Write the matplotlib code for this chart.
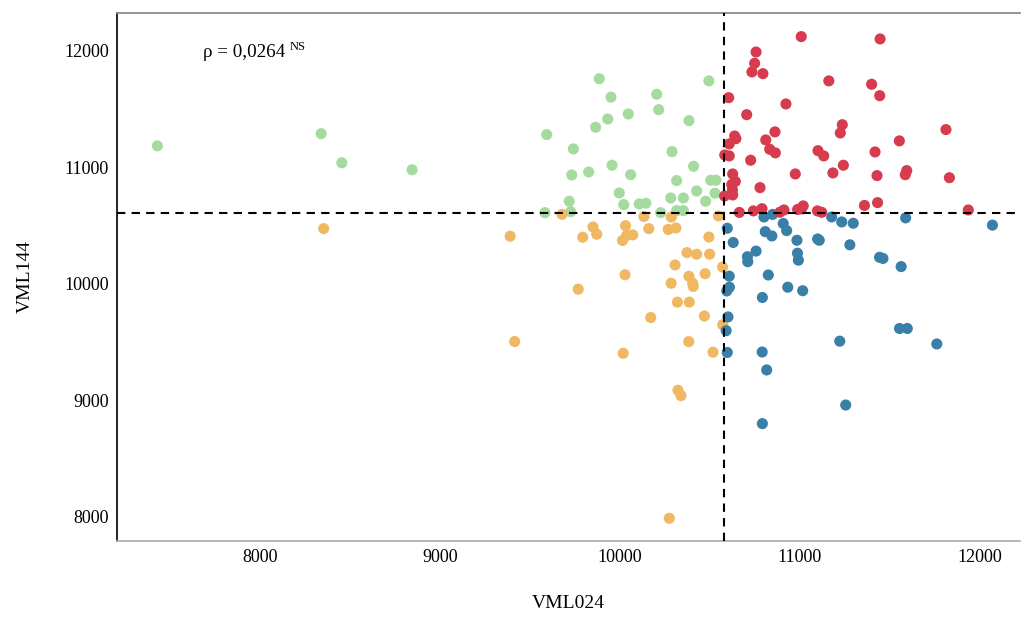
import matplotlib
matplotlib.use("Agg")
import matplotlib.pyplot as plt

plt.rcParams['font.family'] = ['Liberation Serif', 'DejaVu Serif']

# quadrant groups (VML024, VML144)
green_x = [7430, 8340, 8455, 8845, 9885, 10494, 9950, 10204, 10215, 10046,
           9932, 9865, 10383, 9593, 9741, 10289, 9956, 10409, 9732, 9826,
           10059, 10315, 10504, 10533, 9996, 10426, 10528, 10282, 10352, 10476,
           9718, 10021, 10107, 10144, 9583, 9726, 10226, 10315, 10352]
green_y = [11185, 11290, 11040, 10980, 11762, 11743, 11603, 11628, 11496, 11459,
           11416, 11345, 11402, 11282, 11159, 11136, 11019, 11010, 10936, 10961,
           10938, 10887, 10890, 10890, 10781, 10798, 10779, 10738, 10738, 10710,
           10710, 10681, 10687, 10693, 10612, 10621, 10612, 10629, 10629]

red_x = [11007, 11445, 10756, 10748, 10733, 10794, 11160, 11398, 11443, 10604,
         10922, 10704, 11811, 11235, 11224, 10861, 10810, 10637, 10644, 10607,
         11552, 10832, 10863, 11100, 11132, 11417, 10582, 10607, 10726, 11241,
         10974, 11183, 11428, 11593, 11585, 11830, 10626, 10641, 10621, 10625,
         10626, 10581, 10778, 10663, 10741, 10789, 10889, 10911, 10987, 11018,
         11008, 11097, 11121, 11358, 11431, 11935]
red_y = [12123, 12103, 11991, 11894, 11820, 11805, 11743, 11714, 11616, 11599,
         11545, 11453, 11325, 11367, 11296, 11305, 11236, 11270, 11247, 11202,
         11228, 11156, 11125, 11144, 11099, 11133, 11107, 11099, 11062, 11019,
         10944, 10953, 10930, 10973, 10938, 10912, 10944, 10880, 10854, 10807,
         10764, 10755, 10827, 10614, 10627, 10646, 10616, 10635, 10640, 10670,
         10644, 10627, 10615, 10674, 10698, 10635]

blue_x = [10800, 10848, 10907, 10926, 11176, 11232, 11296, 11587, 12069, 10596,
          10807, 10844, 10629, 10983, 11098, 11107, 11277, 10756, 10708, 10710,
          10986, 10991, 11442, 11461, 11562, 10607, 10824, 10608, 10593, 10932,
          11015, 10791, 10600, 10590, 11553, 11596, 11221, 11760, 10596, 10790,
          10815, 11254, 10791]
blue_y = [10575, 10597, 10519, 10458, 10575, 10532, 10521, 10567, 10505, 10478,
          10449, 10412, 10356, 10375, 10386, 10375, 10336, 10282, 10234, 10191,
          10264, 10204, 10229, 10219, 10149, 10067, 10077, 9972, 9940, 9972,
          9942, 9884, 9717, 9599, 9618, 9618, 9509, 9485, 9412, 9416,
          9262, 8961, 8801]

orange_x = [8354, 9678, 10133, 10285, 10547, 9850, 9871, 10031, 9390, 9793,
            10014, 10037, 10071, 10160, 10268, 10311, 10494, 10372, 10426, 10498,
            10306, 10570, 10028, 10383, 10404, 10407, 10473, 10284, 9768, 10319,
            10385, 10171, 10469, 10571, 9415, 10382, 10018, 10517, 10322, 10339,
            10274]
orange_y = [10475, 10598, 10579, 10575, 10584, 10489, 10427, 10500, 10410, 10401,
            10373, 10416, 10421, 10475, 10468, 10481, 10403, 10269, 10255, 10256,
            10163, 10146, 10079, 10066, 10006, 9979, 10088, 10006, 9955, 9844,
            9844, 9712, 9725, 9650, 9506, 9505, 9405, 9414, 9088, 9041,
            7989]

x_mean = 10578
y_mean = 10609
x_ticks = [8000, 9000, 10000, 11000, 12000]
y_ticks = [8000, 9000, 10000, 11000, 12000]

fig = plt.figure(figsize=(10.22, 6.17), dpi=100)
ax = fig.add_axes([0.1145, 0.1232, 0.8835, 0.8558])

ms = 64
ax.scatter(green_x, green_y, s=ms, color='#A6DBA0', edgecolors='none', zorder=3)
ax.scatter(orange_x, orange_y, s=ms, color='#F0B862', edgecolors='none', zorder=3)
ax.scatter(blue_x, blue_y, s=ms, color='#3A7FA8', edgecolors='none', zorder=3)
ax.scatter(red_x, red_y, s=ms, color='#D63B4E', edgecolors='none', zorder=3)

ax.axvline(x_mean, color='black', lw=1.5, ls=(0, (4, 3)), zorder=4)
ax.axhline(y_mean, color='black', lw=1.5, ls=(0, (4, 3)), zorder=4)

ax.set_xlim(7206, 12222)
ax.set_ylim(7794, 12326)
ax.set_xticks(x_ticks)
ax.set_yticks(y_ticks)
ax.tick_params(length=0, labelsize=13, pad=6, colors='black')

ax.spines['right'].set_visible(False)
ax.spines['top'].set_color('#8c8c8c')
ax.spines['bottom'].set_color('#b0b0b0')
ax.spines['top'].set_linewidth(1.3)
ax.spines['bottom'].set_linewidth(1.3)
ax.spines['left'].set_color('black')
ax.spines['left'].set_linewidth(1.2)

ax.set_xlabel('VML024', fontsize=14, labelpad=21)
ax.set_ylabel('VML144', fontsize=14, labelpad=22)

t = ax.text(7683, 11949, 'ρ = 0,0264', fontsize=13.7, ha='left', va='baseline')
ax.annotate('NS', xy=(1, 1), xycoords=t, xytext=(3, 2), textcoords='offset points',
            fontsize=9, ha='left', va='top')

fig.savefig('out.png', dpi=100)
